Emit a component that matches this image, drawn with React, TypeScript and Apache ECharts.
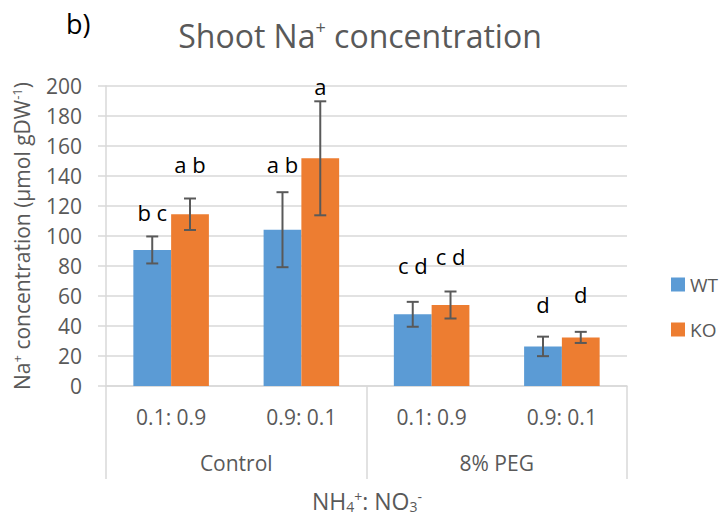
import React, { useEffect, useRef } from "react";
import * as echarts from "echarts";

const categories = ["0.1: 0.9", "0.9: 0.1", "0.1: 0.9", "0.9: 0.1"];
const groups = ["Control", "8% PEG"];
const wtMean = [90.7, 104.2, 47.8, 26.4];
const wtErr = [9, 25, 8.3, 6.5];
const koMean = [114.5, 151.8, 54, 32.4];
const koErr = [10.5, 38, 9, 3.7];
const wtLetters = ["b c", "a b", "c d", "d"];
const koLetters = ["a b", "a", "c d", "d"];
const wtLetterY = [115.8, 148.2, 80.9, 54.9];
const koLetterY = [148.2, 199.8, 86.9, 61.5];
const yMin = 0;
const yMax = 200;
const yStep = 20;

const FONT = "'Open Sans', sans-serif";
const GRAY = "#595959";
const GRID = "#d9d9d9";
const CAT_GAP = 0.42;

function errSeries(means: number[], errs: number[], sign: number) {
  return {
    type: "custom",
    z: 5,
    xAxisIndex: 0,
    yAxisIndex: 0,
    data: means.map((m, i) => [i, m - errs[i], m + errs[i]]),
    renderItem: (params: any, api: any) => {
      const i = api.value(0);
      const lo = api.coord([i, api.value(1)]);
      const hi = api.coord([i, api.value(2)]);
      const band = api.size([1, 0])[0];
      const bw = (band * (1 - CAT_GAP)) / 2;
      const x = lo[0] + (sign * bw) / 2;
      const cap = 6;
      const st = { stroke: GRAY, lineWidth: 2 };
      return {
        type: "group",
        children: [
          { type: "line", shape: { x1: x, y1: lo[1], x2: x, y2: hi[1] }, style: st },
          { type: "line", shape: { x1: x - cap, y1: lo[1], x2: x + cap, y2: lo[1] }, style: st },
          { type: "line", shape: { x1: x - cap, y1: hi[1], x2: x + cap, y2: hi[1] }, style: st },
        ],
      };
    },
  };
}

function letterSeries(ys: number[], letters: string[], sign: number) {
  return {
    type: "custom",
    z: 6,
    xAxisIndex: 0,
    yAxisIndex: 0,
    data: ys.map((y, i) => [i, y]),
    renderItem: (params: any, api: any) => {
      const i = api.value(0);
      const p = api.coord([i, api.value(1)]);
      const band = api.size([1, 0])[0];
      const bw = (band * (1 - CAT_GAP)) / 2;
      return {
        type: "text",
        x: p[0] + (sign * bw) / 2,
        y: p[1],
        style: {
          text: letters[params.dataIndex],
          fill: "#000",
          fontSize: 22,
          fontFamily: FONT,
          align: "center",
          verticalAlign: "middle",
        },
      };
    },
  };
}

export default function App() {
  const ref = useRef<HTMLDivElement>(null);
  useEffect(() => {
    if (!ref.current) return;
    const chart = echarts.init(ref.current, undefined, { renderer: "svg" });
    chart.setOption({
      animation: false,
      backgroundColor: "#fff",
      title: [
        {
          text: "Shoot Na{sup|+} concentration",
          left: "center",
          top: 13,
          textStyle: {
            fontSize: 32,
            fontWeight: "normal",
            color: GRAY,
            fontFamily: FONT,
            rich: { sup: { fontSize: 18, color: GRAY, fontFamily: FONT, verticalAlign: "top", padding: [0, 0, 16, 0] } },
          },
        },
        {
          text: "b)",
          left: 61,
          top: 5,
          textStyle: { fontSize: 27, fontWeight: "normal", color: "#000", fontFamily: FONT },
        },
      ],
      legend: {
        data: ["WT", "KO"],
        orient: "vertical",
        left: 666,
        top: 270,
        itemWidth: 14,
        itemHeight: 14,
        itemGap: 26,
        icon: "rect",
        textStyle: { fontSize: 19, color: GRAY, fontFamily: FONT },
      },
      grid: { left: 106, right: 93, top: 86, bottom: 131 },
      xAxis: [
        {
          type: "category",
          data: categories,
          position: "bottom",
          axisLine: { show: true, lineStyle: { color: GRID, width: 1.5 } },
          axisTick: { show: false },
          axisLabel: { margin: 20, fontSize: 21, color: GRAY, fontFamily: FONT },
        },
        {
          type: "category",
          data: groups,
          position: "bottom",
          offset: 0,
          axisLine: { show: false },
          axisTick: { show: true, length: 93, lineStyle: { color: GRID, width: 1.5 } },
          axisLabel: { margin: 66, fontSize: 21, color: GRAY, fontFamily: FONT },
          splitLine: { show: false },
        },
      ],
      yAxis: {
        type: "value",
        min: yMin,
        max: yMax,
        interval: yStep,
        name: "Na{sup|+} concentration (µmol gDW{sup|-1})",
        nameLocation: "middle",
        nameRotate: 90,
        nameGap: 73,
        nameTextStyle: {
          fontSize: 21,
          color: GRAY,
          fontFamily: FONT,
          rich: { sup: { fontSize: 13, color: GRAY, fontFamily: FONT, verticalAlign: "top", padding: [0, 0, 10, 0] } },
        },
        axisLine: { show: true, lineStyle: { color: GRID, width: 1.5 } },
        axisTick: { show: true, length: 8, lineStyle: { color: GRID, width: 1.5 } },
        axisLabel: { margin: 24, fontSize: 21, color: GRAY, fontFamily: FONT },
        splitLine: { show: true, lineStyle: { color: GRID, width: 1.5 } },
      },
      graphic: [
        {
          type: "text",
          x: 367,
          y: 501,
          style: {
            text: "{a|NH}{sub|4}{sup|+}{a|: NO}{sub|3}{sup|-}",
            align: "center",
            verticalAlign: "middle",
            rich: {
              a: { fontSize: 23, fill: GRAY, color: GRAY, fontFamily: FONT },
              sub: { fontSize: 14, fill: GRAY, color: GRAY, fontFamily: FONT, verticalAlign: "bottom", padding: [8, 0, 0, 0] },
              sup: { fontSize: 14, fill: GRAY, color: GRAY, fontFamily: FONT, verticalAlign: "top", padding: [0, 0, 10, 0] },
            },
          },
        },
      ],
      series: [
        {
          name: "WT",
          type: "bar",
          data: wtMean,
          barGap: "0%",
          barCategoryGap: "42%",
          itemStyle: { color: "#5B9BD5" },
        },
        {
          name: "KO",
          type: "bar",
          data: koMean,
          barGap: "0%",
          barCategoryGap: "42%",
          itemStyle: { color: "#ED7D31" },
        },
        errSeries(wtMean, wtErr, -1),
        errSeries(koMean, koErr, 1),
        letterSeries(wtLetterY, wtLetters, -1),
        letterSeries(koLetterY, koLetters, 1),
      ],
    });
    return () => chart.dispose();
  }, []);
  return (
    <div
      ref={ref}
      style={{ position: "fixed", left: 0, top: 0, width: 720, height: 517 }}
    />
  );
}
